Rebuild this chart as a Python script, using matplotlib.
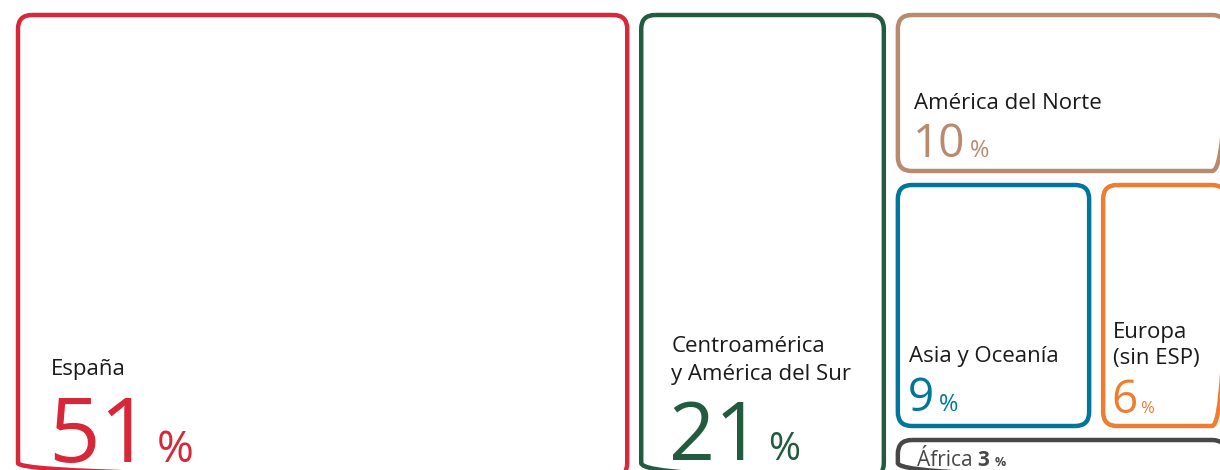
import matplotlib.pyplot as plt
from matplotlib.patches import FancyBboxPatch

# data
regions = ["España", "Centroamérica\ny América del Sur", "América del Norte",
           "Asia y Oceanía", "Europa\n(sin ESP)", "África"]
shares = [51, 21, 10, 9, 6, 3]
colors = ["#D62839", "#225C40", "#B88A6E", "#00779A", "#EE7D32", "#474747"]

# treemap nesting (indices into the lists above): columns -> rows -> row split
tree = [0, 1, [2, [3, 4], 5]]

# per-region text style: pad_x, label_pt, num_pt, pct_pt, pct_gap, num_base, label_base, line_step
styles = [
    (33, 16, 65, 32, 5, 15, 102, 28),
    (30, 16, 58, 28, 7, 17, 97, 28),
    (16, 16, 33, 17, 5, 14, 62, 28),
    (11, 16, 33, 17, 5, 15, 64, 28),
    (10, 16, 33, 12, 2, 13, 62, 26),
]

FONT = "Open Sans"
LABEL_COLOR = "#1a1a1a"
GAP = 14
X0, Y0, W, H = 11, 8, 1222, 476


def value_of(node):
    if isinstance(node, int):
        return shares[node]
    return sum(value_of(n) for n in node)


def layout(node, x, y, w, h, horiz, out):
    if isinstance(node, int):
        out[node] = (x, y, w, h)
        return
    total = value_of(node)
    pos = 0.0
    for child in node:
        f = value_of(child) / total
        if horiz:
            layout(child, x + pos * w, y, f * w, h, not horiz, out)
        else:
            layout(child, x, y + pos * h, w, f * h, not horiz, out)
        pos += f


cells = {}
layout(tree, X0, Y0, W, H, True, cells)

fig = plt.figure(figsize=(12.2, 4.7), dpi=100)
ax = fig.add_axes([0, 0, 1, 1])
ax.set_xlim(0, 1220)
ax.set_ylim(470, 0)
ax.axis("off")
renderer = fig.canvas.get_renderer()


def put_after(prev, s, gap, **kw):
    bb = prev.get_window_extent(renderer)
    x_right = ax.transData.inverted().transform((bb.x1, bb.y0))[0]
    y = prev.get_position()[1]
    return ax.text(x_right + gap, y, s, va="baseline", ha="left",
                   family=FONT, **kw)


for i, name in enumerate(regions):
    x, y, w, h = cells[i]
    bx, by = x + GAP / 2, y + GAP / 2
    bw, bh = w - GAP, h - GAP
    ax.add_patch(FancyBboxPatch((bx, by), bw, bh,
                                boxstyle="round,pad=0,rounding_size=14",
                                fill=False, edgecolor=colors[i], linewidth=3.2))
    bottom = by + bh

    if name == "África":
        t = ax.text(bx + 19, bottom - 11, name, va="baseline", ha="left",
                    family=FONT, fontsize=15, color=colors[i])
        t = put_after(t, str(shares[i]), 5, fontsize=15, fontweight="bold",
                      color=colors[i])
        put_after(t, "%", 5, fontsize=9, fontweight="bold", color=colors[i])
        continue

    pad, lab_pt, num_pt, pct_pt, pct_gap, num_base, lab_base, step = styles[i]
    lines = name.split("\n")
    for k, line in enumerate(reversed(lines)):
        ax.text(bx + pad, bottom - lab_base - k * step, line, va="baseline",
                ha="left", family=FONT, fontsize=lab_pt, color=LABEL_COLOR)
    num = ax.text(bx + pad - num_pt * 0.04, bottom - num_base, str(shares[i]),
                  va="baseline", ha="left", family=FONT, fontsize=num_pt,
                  color=colors[i])
    put_after(num, "%", pct_gap, fontsize=pct_pt, color=colors[i])

fig.savefig("out.png", dpi=100)
